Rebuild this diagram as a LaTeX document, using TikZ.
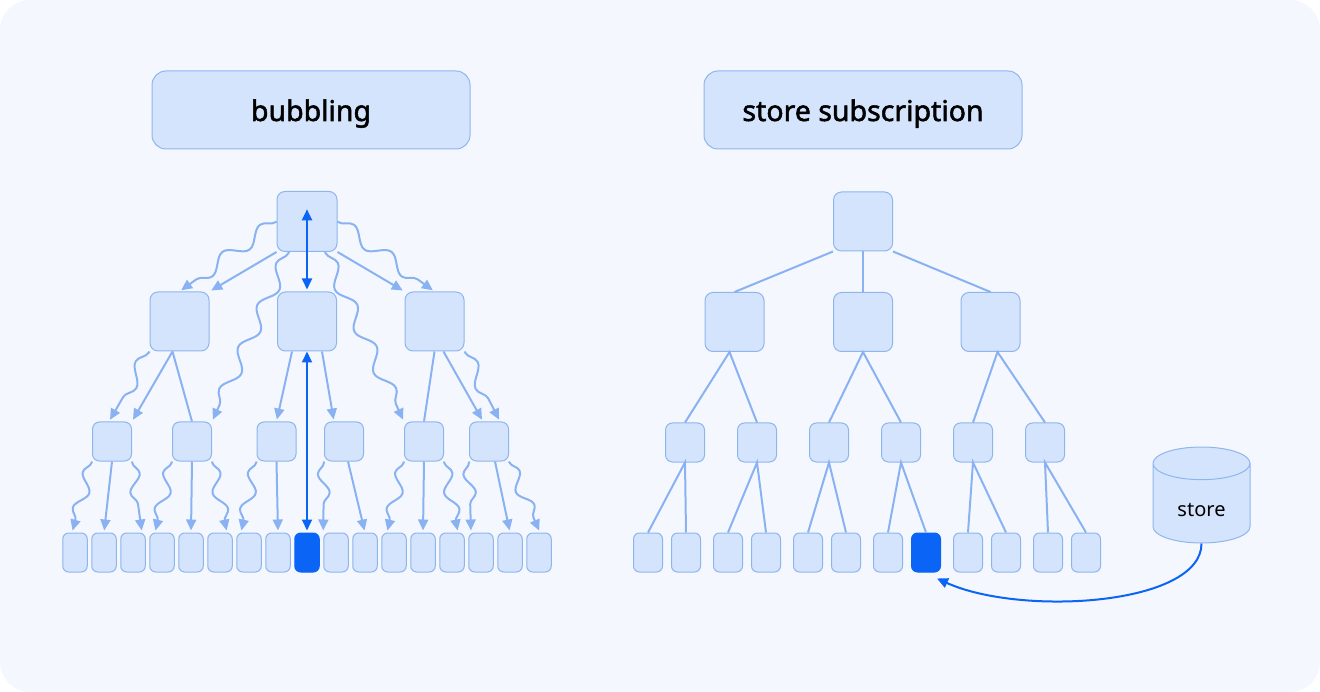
\documentclass[tikz,border=0pt]{standalone}
\usepackage{fontspec}
\setmainfont{Noto Sans}
\newfontfamily\titlefont[FakeBold=1.8]{Noto Sans}
\usetikzlibrary{
  arrows.meta,
  calc,
  positioning,
  shapes.geometric,
  decorations.pathmorphing}

\definecolor{panel}{HTML}{F4F8FE}
\definecolor{boxfill}{HTML}{D4E4FC}
\definecolor{boxline}{HTML}{8FB5EE}
\definecolor{edgec}{HTML}{8AB2F2}
\definecolor{hot}{HTML}{0A64F5}

\begin{document}
\begin{tikzpicture}[x=1pt,y=-1pt,
    box/.style={draw=boxline,fill=boxfill,line width=1pt,rounded corners=8pt,
      minimum size=#1,inner sep=0pt},
    small/.style={box=39,rounded corners=7pt},
    leaf/.style={box=24.5,minimum height=39,rounded corners=6pt},
    hot leaf/.style={fill=hot,draw=hot},
    title/.style={draw=boxline,fill=boxfill,line width=1pt,rounded corners=14pt,
      minimum width=318,minimum height=78,text height=22pt,text depth=0pt,
      font=\titlefont\fontsize{28.5}{34}\selectfont},
    store/.style={cylinder,shape border rotate=90,aspect=0.68,draw=boxline,fill=boxfill,
      line width=1pt,minimum width=97,minimum height=96,inner sep=0pt,
      text height=26pt,text depth=0pt,font=\fontsize{20}{24}\selectfont},
    edge/.style={draw=edgec,line width=2pt},
    arr/.style={edge,-{Triangle[length=11pt,width=10pt]},shorten >=2pt},
    wave/.style={arr,decorate,decoration={snake,amplitude=7pt,segment length=46pt,
      pre length=1pt,post length=11pt}},
    wave left/.style={wave,decoration={mirror}},
    short/.style={decoration={amplitude=6pt,segment length=37pt}},
    hot arr/.style={draw=hot,line width=2pt,
      {Triangle[length=11pt,width=10pt]}-{Triangle[length=11pt,width=10pt]},shorten >=2pt}]

    % panel
    \fill[white] (0,0) rectangle (1320,692);
    \fill[panel,rounded corners=30pt] (0,0) rectangle (1320,692);

    \node[title] (tb) at (311,110) {bubbling};
    \node[title] (ts) at (863,110) {store subscription};

    % bubbling tree
    \node[box=60] (b0) at (307,221.5) {};
    \foreach \n/\x in {1/179.5,2/307,3/434.5}
        \node[box=59] (b\n) at (\x,321.5) {};
    \foreach \n/\x in {1/112,2/192,3/276.5,4/344,5/424,6/489}
        \node[small] (c\n) at (\x,441.5) {};
    \foreach \i in {1,...,8,10,11,...,17}
        \node[leaf] (d\i) at ({75+29*(\i-1)},552.5) {};
    \node[leaf,hot leaf] (d9) at (307,552.5) {};

    \draw[wave left] (b0.west) -- (b1.north);
    \draw[arr] (b0.south west) -- (b1.north east);
    \draw[wave left] ($(b0.south)+(-18,0)$) -- (c2.north east);
    \draw[hot arr] ($(b0.north)!0.3!(b0.south)$) -- (b2.north);
    \draw[wave] ($(b0.south)+(18,0)$) -- (c5.north west);
    \draw[arr] (b0.south east) -- (b3.north west);
    \draw[wave] (b0.east) -- (b3.north);

    \draw[wave left] (b1.south west) -- ($(c1.north)+(-3,0)$);
    \draw[arr] ($(b1.south)+(-7,0)$) -- (c1.north east);
    \draw[edge] ($(b1.south)+(-7,0)$) -- (c2.north);
    \draw[arr] ($(b2.south)+(-15,0)$) -- (c3.north);
    \draw[hot arr] (b2.south) -- (d9.north);
    \draw[arr] ($(b2.south)+(15,0)$) -- ($(c4.north)+(-10,0)$);
    \draw[edge] (b3.south) -- (c5.north);
    \draw[arr] ($(b3.south)+(9,0)$) -- ($(c6.north)+(-6,0)$);
    \draw[wave] (b3.south east) -- ($(c6.north)+(11,0)$);

    \draw[wave left,short] (c1.south west) -- ($(d1.north)+(-3,0)$);
    \draw[arr] (c1.south) -- (d2.north);
    \draw[wave,short] (c1.south east) -- ($(d3.north)+(9,0)$);
    \draw[wave left,short] (c2.south west) -- ($(d4.north)+(-7,0)$);
    \draw[arr] (c2.south) -- (d5.north);
    \draw[wave,short] (c2.south east) -- ($(d6.north)+(7,0)$);
    \draw[wave left,short] (c3.south west) -- ($(d7.north)+(-8,0)$);
    \draw[arr] (c3.south) -- (d8.north);
    \draw[wave left,short] (c4.south west) -- (d10.north west);
    \draw[arr] ($(c4.south)+(4,0)$) -- (d11.north);
    \draw[wave left,short] (c5.south west) -- ($(d12.north)+(-7,0)$);
    \draw[arr] (c5.south) -- (d13.north);
    \draw[wave,short] (c5.south east) -- ($(d14.north)+(6,0)$);
    \draw[wave left,short] (c6.south west) -- ($(d15.north)+(-10,0)$);
    \draw[arr] ($(c6.south)+(6,0)$) -- (d16.north);
    \draw[wave,short] (c6.south east) -- ($(d17.north)+(1,0)$);

    % store subscription tree
    \node[box=59] (e0) at (863,221.5) {};
    \foreach \n/\x in {1/734.5,2/863,3/990.5}
        \node[box=59] (e\n) at (\x,322) {};
    \foreach \n in {1,...,6}
        \node[small] (f\n) at ({685+72*(\n-1)},442.5) {};
    \foreach \i in {1,...,12} {
        \pgfmathsetmacro\gx{648+80*floor((\i-1)/2)+38*mod(\i-1,2)}
        \ifnum\i=8 \def\sty{hot leaf}\else\def\sty{}\fi
        \node[leaf,minimum width=29,\sty] (g\i) at (\gx,552.5) {};
    }
    \node[store,anchor=shape center] (st) at (1201.5,495) {store};

    \draw[edge] (e0.south west) -- (e1.north);
    \draw[edge] (e0.south) -- (e2.north);
    \draw[edge] (e0.south east) -- (e3.north);
    \draw[edge] (f1.north) -- ($(e1.south)+(-5,0)$) -- (f2.north);
    \draw[edge] (f3.north) -- (e2.south) -- (f4.north);
    \draw[edge] (f5.north) -- ($(e3.south)+(7,0)$) -- (f6.north);
    \foreach \n in {1,...,6} {
        \pgfmathtruncatemacro\ga{2*\n-1}
        \pgfmathtruncatemacro\gb{2*\n}
        \draw[edge] (g\ga.north) -- (f\n.south) -- (g\gb.north);
    }
    \draw[hot,line width=2pt,-{Triangle[length=11pt,width=10pt]}]
        (st.south) .. controls +(0,62) and +(84,38) .. ($(g8.south east)+(-4,6)$);
\end{tikzpicture}
\end{document}
